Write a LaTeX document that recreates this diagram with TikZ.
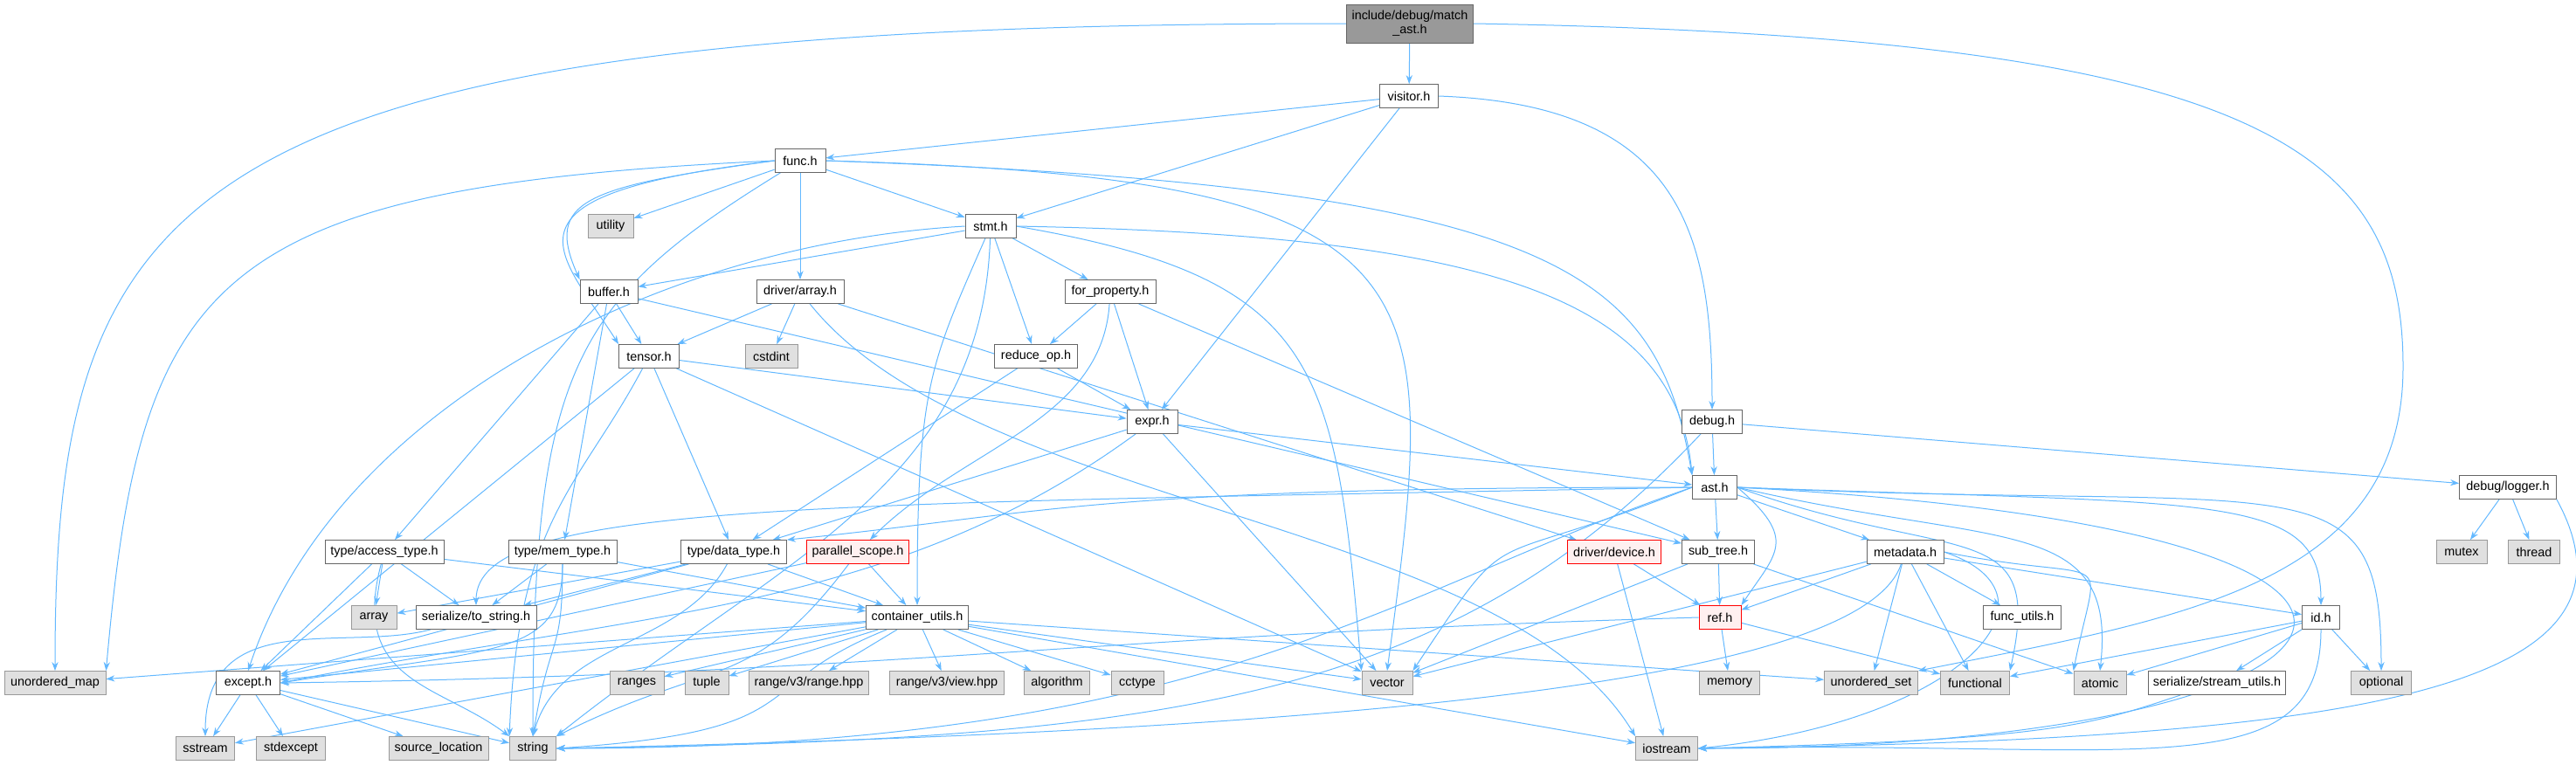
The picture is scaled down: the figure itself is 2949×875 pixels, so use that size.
\documentclass[tikz,border=0pt]{standalone}
\usepackage{fontspec}
\setmainfont{Liberation Sans}
\usepackage{xcolor}
\usetikzlibrary{arrows.meta,backgrounds}
\definecolor{edgeBlue}{RGB}{99,184,255}
\definecolor{boxLine}{RGB}{102,102,102}
\definecolor{extLine}{RGB}{153,153,153}
\definecolor{extFill}{RGB}{224,224,224}
\definecolor{rootFill}{RGB}{153,153,153}
\definecolor{redFill}{RGB}{255,240,240}

\begin{document}
\begin{tikzpicture}[x=0.5pt, y=-0.5pt,
			hdr/.style={draw=boxLine, fill=white, minimum height=13.5pt, inner sep=1pt,
				font=\fontsize{7.2}{8}\selectfont},
			ext/.style={hdr, draw=extLine, fill=extFill},
			bad/.style={hdr, draw=red, fill=redFill},
			wd/.style={minimum width=#1*0.5pt},
			arrow/.style={->, >={Stealth[length=5pt,width=3.6pt]}, color=edgeBlue, line width=0.5pt}
			]
			\useasboundingbox (0,0) rectangle (2949,875);
			% top rows
			\node[hdr, fill=rootFill, wd=145, minimum height=22pt, align=center] (match) at (1614,27) {include/debug/match\\\_ast.h};
			\node[hdr, wd=67] (visitor) at (1613,110) {visitor.h};
			\node[hdr, wd=58] (func) at (916,184) {func.h};
			\node[ext, wd=52] (utility) at (699,259) {utility};
			\node[hdr, wd=58] (stmt) at (1134,259) {stmt.h};
			\node[hdr, wd=66] (buffer) at (697,334) {buffer.h};
			\node[hdr, wd=100] (arrayh) at (916,334) {driver/array.h};
			\node[hdr, wd=104] (forprop) at (1271,334) {for\_property.h};
			\node[hdr, wd=69] (tensor) at (743,408) {tensor.h};
			\node[ext, wd=60] (cstdint) at (883,408) {cstdint};
			\node[hdr, wd=95] (reduceop) at (1186,408) {reduce\_op.h};
			\node[hdr, wd=58] (expr) at (1319,483) {expr.h};
			\node[hdr, wd=69] (debug) at (1960,483) {debug.h};
			\node[hdr, wd=51] (ast) at (1963,558) {ast.h};
			\node[hdr, wd=111] (logger) at (2871,558) {debug/logger.h};
			% middle rows
			\node[hdr, wd=136] (accesstype) at (440,632) {type/access\_type.h};
			\node[hdr, wd=124] (memtype) at (644,632) {type/mem\_type.h};
			\node[hdr, wd=121] (datatype) at (840,632) {type/data\_type.h};
			\node[bad, wd=117] (parscope) at (982,632) {parallel\_scope.h};
			\node[bad, wd=107] (device) at (1848,632) {driver/device.h};
			\node[hdr, wd=83] (subtree) at (1967,632) {sub\_tree.h};
			\node[hdr, wd=88] (metadata) at (2181,632) {metadata.h};
			\node[ext, wd=58] (mutex) at (2818,632) {mutex};
			\node[ext, wd=59] (thread) at (2901,632) {thread};
			\node[ext, wd=52] (arrayext) at (428,707) {array};
			\node[hdr, wd=138] (tostring) at (545,707) {serialize/to\_string.h};
			\node[hdr, wd=117] (cutils) at (1050,707) {container\_utils.h};
			\node[bad, wd=48] (ref) at (1969,707) {ref.h};
			\node[hdr, wd=89] (funcutils) at (2315,707) {func\_utils.h};
			\node[hdr, wd=43] (id) at (2657,707) {id.h};
			% bottom rows
			\node[ext, wd=116] (umap) at (63,782) {unordered\_map};
			\node[hdr, wd=73] (except) at (284,782) {except.h};
			\node[ext, wd=62] (ranges) at (729,782) {ranges};
			\node[ext, wd=50] (tuple) at (809,782) {tuple};
			\node[ext, wd=137] (rangehpp) at (926,782) {range/v3/range.hpp};
			\node[ext, wd=131] (viewhpp) at (1084,782) {range/v3/view.hpp};
			\node[ext, wd=75] (algorithm) at (1210,782) {algorithm};
			\node[ext, wd=60] (cctype) at (1302,782) {cctype};
			\node[ext, wd=58] (vector) at (1588,782) {vector};
			\node[ext, wd=69] (memory) at (1980,782) {memory};
			\node[ext, wd=107] (uset) at (2142,782) {unordered\_set};
			\node[ext, wd=79] (functional) at (2261,782) {functional};
			\node[ext, wd=60] (atomic) at (2404,782) {atomic};
			\node[hdr, wd=157] (streamutils) at (2538,782) {serialize/stream\_utils.h};
			\node[ext, wd=69] (optional) at (2726,782) {optional};
			\node[ext, wd=67] (sstream) at (235,857) {sstream};
			\node[ext, wd=79] (stdexcept) at (333,857) {stdexcept};
			\node[ext, wd=114] (srcloc) at (502,857) {source\_location};
			\node[ext, wd=53] (string) at (610,857) {string};
			\node[ext, wd=71] (iostream) at (1908,857) {iostream};
			\coordinate (uturn) at (2751,420);

			\begin{scope}[on background layer]
			% match_ast.h and visitor.h
			\draw[arrow] (match) -- (visitor);
			\draw[arrow] (match.west) .. controls +(-1350,0) and +(0,-550) .. (umap.north);
			\draw[arrow] (match.east) .. controls +(900,15) and +(0,-250) .. (uturn) .. controls +(0,250) and +(300,-60) .. (uset.north east);
			\draw[arrow] (visitor) -- (func);
			\draw[arrow] (visitor) -- (stmt);
			\draw[arrow] (visitor) -- (expr);
			\draw[arrow] (visitor.east) .. controls +(280,10) and +(0,-200) .. (debug.north);
			% func.h
			\draw[arrow] (func) -- (utility);
			\draw[arrow] (func) -- (stmt);
			\draw[arrow] (func) -- (arrayh);
			\draw[arrow] (func.west) .. controls +(-220,30) and +(-40,-90) .. (buffer.north west);
			\draw[arrow] (func.west) .. controls +(-330,40) and +(-70,-110) .. (tensor.north west);
			\draw[arrow] (func.west) .. controls +(-650,30) and +(40,-450) .. (umap.north east);
			\draw[arrow] (func) .. controls +(-260,160) and +(0,-420) .. (string.north);
			\draw[arrow] (func.east) .. controls +(720,20) and +(60,-450) .. (vector.north);
			\draw[arrow] (func.east) .. controls +(850,30) and +(-40,-230) .. (ast.north west);
			% stmt.h
			\draw[arrow] (stmt) -- (buffer);
			\draw[arrow] (stmt) -- (forprop);
			\draw[arrow] (stmt) -- (reduceop);
			\draw[arrow] (stmt) .. controls +(-70,160) and +(0,-250) .. (cutils.north);
			\draw[arrow] (stmt.west) .. controls +(-350,20) and +(100,-300) .. (except.north);
			\draw[arrow] (stmt) .. controls +(-10,300) and +(250,-200) .. (string.north east);
			\draw[arrow] (stmt.east) .. controls +(350,60) and +(-30,-350) .. (vector.north west);
			\draw[arrow] (stmt.east) .. controls +(550,10) and +(-20,-200) .. (ast.north west);
			% buffer.h, driver/array.h, for_property.h
			\draw[arrow] (buffer) -- (tensor);
			\draw[arrow] (buffer) -- (accesstype);
			\draw[arrow] (buffer) -- (memtype);
			\draw[arrow] (buffer) -- (subtree);
			\draw[arrow] (arrayh) -- (tensor);
			\draw[arrow] (arrayh) -- (cstdint);
			\draw[arrow] (arrayh) -- (device);
			\draw[arrow] (arrayh) .. controls +(200,250) and +(-150,-250) .. (iostream.north west);
			\draw[arrow] (forprop) -- (reduceop);
			\draw[arrow] (forprop) -- (expr);
			\draw[arrow] (forprop) .. controls +(-10,150) and +(120,-120) .. (parscope);
			\draw[arrow] (forprop) -- (subtree);
			% tensor.h, reduce_op.h, expr.h
			\draw[arrow] (tensor) -- (expr);
			\draw[arrow] (tensor) -- (datatype);
			\draw[arrow] (tensor) -- (except);
			\draw[arrow] (tensor) .. controls +(-80,150) and +(10,-250) .. (string.north west);
			\draw[arrow] (tensor) -- (vector);
			\draw[arrow] (reduceop) -- (expr);
			\draw[arrow] (reduceop) -- (datatype);
			\draw[arrow] (expr) -- (ast);
			\draw[arrow] (expr) -- (datatype);
			\draw[arrow] (expr) -- (vector);
			\draw[arrow] (expr) .. controls +(-300,220) and +(400,-80) .. (except.east);
			% debug.h
			\draw[arrow] (debug) -- (ast);
			\draw[arrow] (debug) -- (logger);
			\draw[arrow] (debug) .. controls +(-300,320) and +(700,-10) .. (string.east);
			% ast.h
			\draw[arrow] (ast) -- (subtree);
			\draw[arrow] (ast) -- (metadata);
			\draw[arrow] (ast.east) .. controls +(70,60) and +(40,-60) .. (ref.north east);
			\draw[arrow] (ast.east) .. controls +(550,20) and +(0,-130) .. (id.north);
			\draw[arrow] (ast.west) .. controls +(-700,0) and +(300,-30) .. (datatype.north east);
			\draw[arrow] (ast.west) .. controls +(-1000,20) and +(0,-120) .. (tostring.north);
			\draw[arrow] (ast.east) .. controls +(300,70) and +(20,-180) .. (atomic.north);
			\draw[arrow] (ast.east) .. controls +(250,90) and +(40,-180) .. (functional.north east);
			\draw[arrow] (ast.east) .. controls +(650,30) and +(0,-250) .. (optional.north);
			\draw[arrow] (ast.east) .. controls +(950,50) and +(800,0) .. (iostream.east);
			\draw[arrow] (ast.west) .. controls +(-350,120) and +(750,0) .. (string.east);
			\draw[arrow] (ast.west) .. controls +(-250,100) and +(120,-180) .. (vector.north east);
			% debug/logger.h
			\draw[arrow] (logger) -- (mutex);
			\draw[arrow] (logger) -- (thread);
			\draw[arrow] (logger.south east) .. controls +(120,220) and +(750,-10) .. (iostream.east);
			% type headers
			\draw[arrow] (accesstype) -- (arrayext);
			\draw[arrow] (accesstype) -- (tostring);
			\draw[arrow] (accesstype) -- (except);
			\draw[arrow] (accesstype) .. controls +(-40,150) and +(-80,-60) .. (string.north west);
			\draw[arrow] (accesstype) -- (cutils);
			\draw[arrow] (memtype) -- (tostring);
			\draw[arrow] (memtype) .. controls +(0,120) and +(250,-40) .. (except.east);
			\draw[arrow] (memtype) .. controls +(0,120) and +(20,-120) .. (string.north);
			\draw[arrow] (memtype) -- (cutils);
			\draw[arrow] (datatype) -- (arrayext);
			\draw[arrow] (datatype) -- (tostring);
			\draw[arrow] (datatype) -- (except);
			\draw[arrow] (datatype) .. controls +(-60,110) and +(30,-110) .. (string.north);
			\draw[arrow] (datatype) -- (cutils);
			\draw[arrow] (parscope) -- (cutils);
			\draw[arrow] (parscope) -- (except);
			\draw[arrow] (parscope) .. controls +(-120,160) and +(180,-90) .. (string.north east);
			% driver/device.h, sub_tree.h, metadata.h
			\draw[arrow] (device) -- (ref);
			\draw[arrow] (device) -- (iostream);
			\draw[arrow] (subtree) -- (ref);
			\draw[arrow] (subtree) -- (vector);
			\draw[arrow] (subtree) -- (atomic);
			\draw[arrow] (metadata) -- (ref);
			\draw[arrow] (metadata) -- (vector);
			\draw[arrow] (metadata) -- (uset);
			\draw[arrow] (metadata) -- (functional);
			\draw[arrow] (metadata) -- (funcutils);
			\draw[arrow] (metadata) -- (id);
			\draw[arrow] (metadata.east) .. controls +(200,40) and +(30,-150) .. (atomic.north west);
			\draw[arrow] (metadata.east) .. controls +(150,50) and +(300,-30) .. (iostream.east);
			\draw[arrow] (metadata) .. controls +(-50,150) and +(900,-20) .. (string.east);
			% serialize/to_string.h and container_utils.h
			\draw[arrow] (tostring) .. controls +(-150,40) and +(0,-150) .. (sstream.north);
			\draw[arrow] (cutils) -- (ranges);
			\draw[arrow] (cutils) -- (tuple);
			\draw[arrow] (cutils) -- (rangehpp);
			\draw[arrow] (cutils) -- (viewhpp);
			\draw[arrow] (cutils) -- (algorithm);
			\draw[arrow] (cutils) -- (cctype);
			\draw[arrow] (cutils) -- (vector);
			\draw[arrow] (cutils) -- (iostream);
			\draw[arrow] (cutils) .. controls +(-200,80) and +(300,-20) .. (string.east);
			\draw[arrow] (cutils) -- (except);
			\draw[arrow] (cutils) -- (umap);
			\draw[arrow] (cutils) -- (uset);
			\draw[arrow] (cutils) -- (sstream);
			% ref.h, id.h and the rest
			\draw[arrow] (ref) -- (memory);
			\draw[arrow] (ref) -- (functional);
			\draw[arrow] (ref.west) .. controls +(-700,20) and +(700,-10) .. (except.east);
			\draw[arrow] (id) -- (atomic);
			\draw[arrow] (id) -- (functional);
			\draw[arrow] (id) -- (streamutils);
			\draw[arrow] (id) -- (optional);
			\draw[arrow] (id) .. controls +(0,200) and +(500,-10) .. (iostream.east);
			\draw[arrow] (streamutils) .. controls +(-150,50) and +(400,-10) .. (iostream.east);
			\draw[arrow] (except) -- (sstream);
			\draw[arrow] (except) -- (stdexcept);
			\draw[arrow] (except) -- (srcloc);
			\draw[arrow] (except) -- (string);
			\end{scope}
		\end{tikzpicture}
\end{document}
